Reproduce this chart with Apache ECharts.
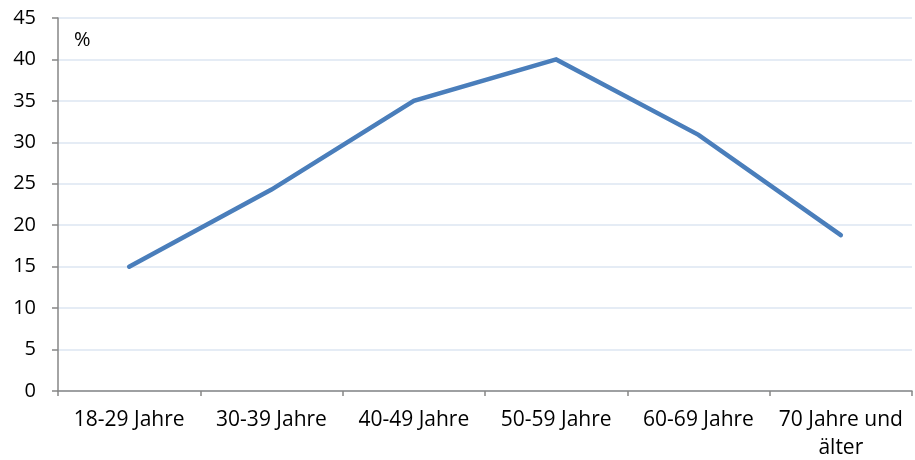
<!DOCTYPE html>
<html><head><meta charset="utf-8">
<script src="https://cdn.jsdelivr.net/npm/echarts@6/dist/echarts.min.js"></script>
<style>html,body{margin:0;padding:0;background:#fff}#c{width:915px;height:460px}</style>
</head><body><div id="c"></div>
<script>
const categories = ['18-29 Jahre','30-39 Jahre','40-49 Jahre','50-59 Jahre','60-69 Jahre','70 Jahre und\nälter'];
const values = [15, 24.3, 35, 40, 30.9, 18.8];
const yTicks = {min: 0, max: 45, interval: 5};
const unitLabel = '%';

const chart = echarts.init(document.getElementById('c'));
const font = 'Open Sans';
chart.setOption({
  animation: false,
  grid: {left: 58, right: 3, top: 18, bottom: 69, containLabel: false, outerBoundsMode: 'none'},
  graphic: [{type: 'text', left: 74, top: 30, style: {text: unitLabel, fontSize: 20, fontFamily: font, fill: '#000'}}],
  xAxis: {
    type: 'category', data: categories, boundaryGap: true,
    axisLine: {lineStyle: {color: '#868686', width: 1.5}},
    axisTick: {show: true, length: 5, lineStyle: {color: '#868686', width: 1.5}},
    axisLabel: {color: '#000', fontSize: 21, fontFamily: font, margin: 15, lineHeight: 28, interval: 0}
  },
  yAxis: {
    type: 'value', min: yTicks.min, max: yTicks.max, interval: yTicks.interval,
    axisLine: {show: true, lineStyle: {color: '#868686', width: 1.5}},
    axisTick: {show: true, length: 6, lineStyle: {color: '#868686', width: 1.5}},
    axisLabel: {color: '#000', fontSize: 20, fontFamily: font, margin: 22},
    splitLine: {lineStyle: {color: '#DCE6F2', width: 1.5}}
  },
  series: [{
    type: 'line', data: values, symbol: 'none',
    lineStyle: {color: '#4A7EBB', width: 4.5, cap: 'round', join: 'miter'}
  }]
});
</script></body></html>
